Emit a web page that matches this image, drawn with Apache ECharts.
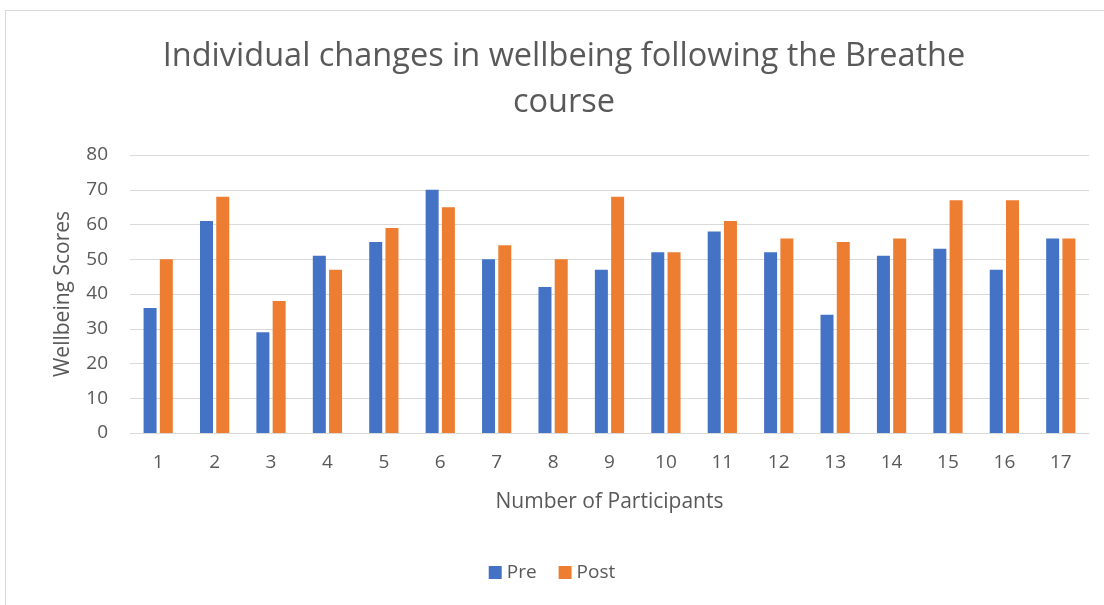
<!DOCTYPE html>
<html>
<head>
<meta charset="utf-8">
<script src="https://cdn.jsdelivr.net/npm/echarts@6/dist/echarts.min.js"></script>
<style>
  body { margin: 0; background: #fff; }
  #frame { position: absolute; left: 5px; top: 10px; width: 1110px; height: 610px; border: 1px solid #d9d9d9; }
  #chart { position: absolute; left: 0; top: 0; width: 1104px; height: 605px; }
</style>
</head>
<body>
<div id="frame"></div>
<div id="chart"></div>
<script>
  const participants = ['1', '2', '3', '4', '5', '6', '7', '8', '9', '10', '11', '12', '13', '14', '15', '16', '17'];
  const preScores = [36, 61, 29, 51, 55, 70, 50, 42, 47, 52, 58, 52, 34, 51, 53, 47, 56];
  const postScores = [50, 68, 38, 47, 59, 65, 54, 50, 68, 52, 61, 56, 55, 56, 67, 67, 56];

  const font = 'Open Sans';
  const textColor = '#595959';

  const chart = echarts.init(document.getElementById('chart'));
  chart.setOption({
    animation: false,
    title: {
      text: 'Individual changes in wellbeing following the Breathe\ncourse',
      left: 559,
      textAlign: 'center',
      top: 29,
      textStyle: { fontFamily: font, fontWeight: 'normal', fontSize: 32.5, color: textColor, lineHeight: 46 }
    },
    legend: {
      top: 558,
      left: 'center',
      itemWidth: 13,
      itemHeight: 13,
      itemGap: 22,
      icon: 'rect',
      textStyle: { fontFamily: font, fontSize: 19, color: textColor },
      data: ['Pre', 'Post']
    },
    grid: { left: 130, right: 15, top: 155, bottom: 172 },
    xAxis: {
      type: 'category',
      data: participants,
      name: 'Number of Participants',
      nameLocation: 'middle',
      nameGap: 59,
      nameTextStyle: { fontFamily: font, fontSize: 21, color: textColor },
      axisLine: { lineStyle: { color: '#d9d9d9' } },
      axisTick: { show: false },
      axisLabel: { fontFamily: font, fontSize: 19, color: textColor, margin: 20 }
    },
    yAxis: {
      type: 'value',
      min: 0,
      max: 80,
      interval: 10,
      name: 'Wellbeing Scores',
      nameLocation: 'middle',
      nameGap: 56,
      nameTextStyle: { fontFamily: font, fontSize: 21, color: textColor },
      axisLabel: { fontFamily: font, fontSize: 19, color: textColor, margin: 22 },
      splitLine: { lineStyle: { color: '#d9d9d9', width: 1 } }
    },
    series: [
      {
        name: 'Pre',
        type: 'bar',
        data: preScores,
        barWidth: 13,
        barGap: '25%',
        itemStyle: { color: '#4472c4' }
      },
      {
        name: 'Post',
        type: 'bar',
        data: postScores,
        barWidth: 13,
        itemStyle: { color: '#ed7d31' }
      }
    ]
  });
</script>
</body>
</html>
